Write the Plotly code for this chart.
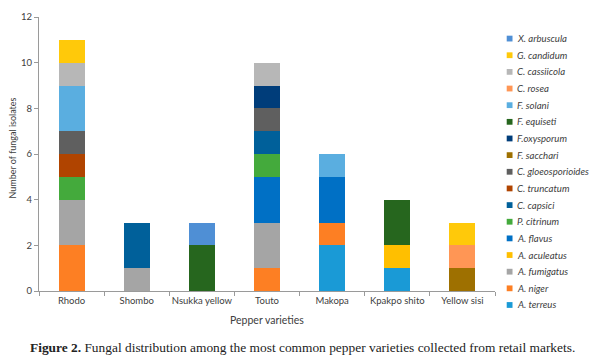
import plotly.graph_objects as go

categories = ["Rhodo", "Shombo", "Nsukka yellow", "Touto", "Makopa", "Kpakpo shito", "Yellow sisi"]

# series in stacking order (bottom first)
series_names = ["A. terreus", "A. niger", "A. fumigatus", "A. aculeatus", "A. flavus",
                "P. citrinum", "C. capsici", "C. truncatum", "C. gloeosporioides",
                "F. sacchari", "F.oxysporum", "F. equiseti", "F. solani", "C. rosea",
                "C. cassiicola", "G. candidum", "X. arbuscula"]

a_terreus          = [0, 0, 0, 0, 2, 1, 0]
a_niger            = [2, 0, 0, 1, 1, 0, 0]
a_fumigatus        = [2, 1, 0, 2, 0, 0, 0]
a_aculeatus        = [0, 0, 0, 0, 0, 1, 0]
a_flavus           = [0, 0, 0, 2, 2, 0, 0]
p_citrinum         = [1, 0, 0, 1, 0, 0, 0]
c_capsici          = [0, 2, 0, 1, 0, 0, 0]
c_truncatum        = [1, 0, 0, 0, 0, 0, 0]
c_gloeosporioides  = [1, 0, 0, 1, 0, 0, 0]
f_sacchari         = [0, 0, 0, 0, 0, 0, 1]
f_oxysporum        = [0, 0, 0, 1, 0, 0, 0]
f_equiseti         = [0, 0, 2, 0, 0, 2, 0]
f_solani           = [2, 0, 0, 0, 1, 0, 0]
c_rosea            = [0, 0, 0, 0, 0, 0, 1]
c_cassiicola       = [1, 0, 0, 1, 0, 0, 0]
g_candidum         = [1, 0, 0, 0, 0, 0, 1]
x_arbuscula        = [0, 0, 1, 0, 0, 0, 0]

series_values = [a_terreus, a_niger, a_fumigatus, a_aculeatus, a_flavus, p_citrinum,
                 c_capsici, c_truncatum, c_gloeosporioides, f_sacchari, f_oxysporum,
                 f_equiseti, f_solani, c_rosea, c_cassiicola, g_candidum, x_arbuscula]

colors = ["#1a9ad6", "#fd7f23", "#a5a5a5", "#ffbf00", "#0070c5",
          "#44aa3c", "#00609a", "#b04400", "#5f5f5f",
          "#9e7000", "#003d7a", "#26661e", "#5aaee0", "#ff9655",
          "#b7b7b7", "#ffc90a", "#4f8fd5"]

y_ticks = [0, 2, 4, 6, 8, 10, 12]

W, H = 600, 360
L, R, T, B = 39.3, 495.0, 16.7, 291.0

fig = go.Figure()
for name, vals, col in zip(series_names, series_values, colors):
    fig.add_trace(go.Bar(name=name, x=categories, y=vals, marker_color=col,
                         marker_line_width=0, width=0.4, showlegend=False))

def px_x(px):
    return (px - L) / (R - L)

def px_y(py):
    return (B - py) / (B - T)

shapes = []
annotations = []
# manual legend (reversed order, top = last series)
leg_names = series_names[::-1]
leg_colors = colors[::-1]
y0 = 38.3
step = (305.0 - 38.3) / 16
for i, (n, c) in enumerate(zip(leg_names, leg_colors)):
    cy = y0 + i * step
    shapes.append(dict(type="rect", xref="paper", yref="paper",
                       x0=px_x(506.7), x1=px_x(512.5), y0=px_y(cy + 2.9), y1=px_y(cy - 2.9),
                       fillcolor=c, line_width=0))
    annotations.append(dict(text="<i>" + n + "</i>", xref="paper", yref="paper",
                            x=px_x(515), y=px_y(cy), xanchor="left", yanchor="middle",
                            showarrow=False, font=dict(family="Lato", size=9.6, color="#404040")))

annotations.append(dict(text="Number of fungal isolates", xref="paper", yref="paper",
                        x=px_x(12.7), y=px_y(148), textangle=-90, showarrow=False,
                        xanchor="center", yanchor="middle",
                        font=dict(family="Lato", size=9, color="#404040")))
annotations.append(dict(text="Pepper varieties", xref="paper", yref="paper",
                        x=px_x(267), y=px_y(320.5), showarrow=False,
                        xanchor="center", yanchor="middle",
                        font=dict(family="Lato", size=10.5, color="#404040")))
annotations.append(dict(text="<b>Figure 2.</b> Fungal distribution among the most common pepper varieties collected from retail markets.",
                        xref="paper", yref="paper", x=px_x(28), y=px_y(348), showarrow=False,
                        xanchor="left", yanchor="middle",
                        font=dict(family="Liberation Serif", size=13.4, color="#222222")))

fig.update_layout(
    width=W, height=H,
    margin=dict(l=L, r=W - R, t=T, b=H - B, pad=0, autoexpand=False),
    paper_bgcolor="white", plot_bgcolor="white",
    barmode="stack", bargap=0.6,
    shapes=shapes, annotations=annotations,
    font=dict(family="Lato", color="#595959"),
)
fig.update_xaxes(showline=True, linecolor="#9a9a9a", linewidth=1.2, automargin=False,
                 ticks="outside", tickson="boundaries", ticklen=4, tickcolor="#9a9a9a",
                 tickangle=0,
                 tickfont=dict(family="Lato", size=9.5, color="#404040"), showgrid=False)
fig.update_yaxes(range=[0, 12], tickvals=y_ticks, showline=True, linecolor="#9a9a9a",
                 linewidth=1.2, ticks="outside", ticklen=4, tickcolor="#9a9a9a",
                 automargin=False,
                 tickfont=dict(family="Lato", size=9.5, color="#404040"), showgrid=False,
                 zeroline=False)

fig.write_html("out.html", config={"displayModeBar": False},
               post_script="document.body.style.margin='0';document.body.style.padding='0';")
